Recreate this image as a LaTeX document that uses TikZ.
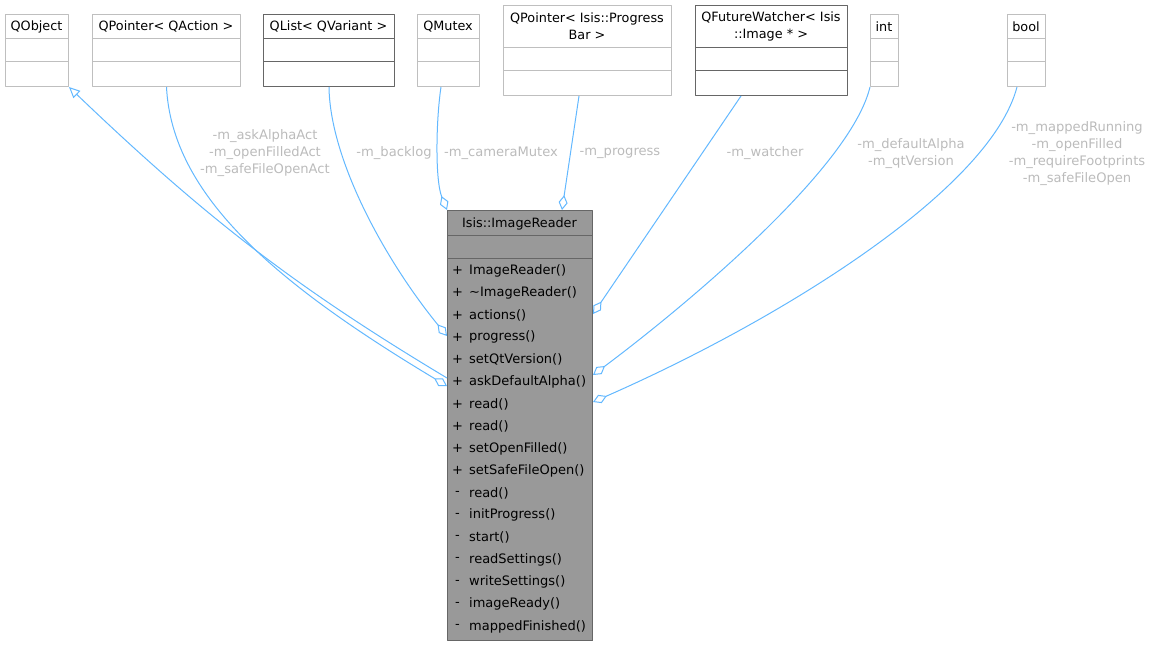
\documentclass[tikz,border=0pt]{standalone}
\usepackage{fontspec}
\setmainfont{DejaVu Sans}
\usetikzlibrary{arrows.meta}
\definecolor{boxgray}{HTML}{BFBFBF}
\definecolor{borderdark}{HTML}{666666}
\definecolor{linkblue}{HTML}{63B8FF}
\definecolor{rolegray}{HTML}{BBBBBB}
\definecolor{readerfill}{HTML}{999999}
\tikzset{
  every picture/.style={font=\fontsize{13}{15}\selectfont, line join=round},
  clsbox/.style={draw=boxgray, line width=1pt, inner sep=0pt, anchor=north west},
  clsdark/.style={clsbox, draw=borderdark},
  clsname/.style={inner sep=0pt, align=center, font=\fontsize{12.8}{17}\selectfont},
  member/.style={inner sep=0pt, anchor=west},
  edgeblue/.style={draw=linkblue, line width=1pt},
  agg/.style={edgeblue, -{Diamond[open, length=15pt, width=9pt]}},
  inh/.style={edgeblue, {Triangle[open, length=11pt, width=10pt]}-},
  role/.style={text=rolegray, align=center, inner sep=0pt, font=\fontsize{13.1}{17}\selectfont},
}

\begin{document}
\begin{tikzpicture}[x=1pt,y=-1pt]
\useasboundingbox (0,0) rectangle (1149,646);
% classes along the top
\node[clsbox, minimum width=63pt, minimum height=72pt] (qobject) at (5,14) {};
\node[clsbox, minimum width=148pt, minimum height=72pt] (qaction) at (92,14) {};
\node[clsdark, minimum width=131pt, minimum height=72pt] (qlist) at (263,14) {};
\node[clsbox, minimum width=62pt, minimum height=72pt] (qmutex) at (417,14) {};
\node[clsbox, minimum width=168pt, minimum height=90pt] (qprogress) at (503,5) {};
\node[clsdark, minimum width=152pt, minimum height=90pt] (qwatcher) at (695,5) {};
\node[clsbox, minimum width=28pt, minimum height=72pt] (qint) at (870,14) {};
\node[clsbox, minimum width=38pt, minimum height=72pt] (qbool) at (1007,14) {};
\foreach \n/\a/\b/\c in {qobject/38/61/boxgray, qaction/38/61/boxgray, qlist/38/61/borderdark,
    qmutex/38/61/boxgray, qprogress/47/70/boxgray, qwatcher/47/70/borderdark,
    qint/38/61/boxgray, qbool/38/61/boxgray}
  \draw[\c, line width=1pt] (\n.west |- 0,\a) -- (\n.east |- 0,\a) (\n.west |- 0,\b) -- (\n.east |- 0,\b);
\node[clsname] (qobject-t) at (36.5,26.5) {QObject};
\node[clsname] (qaction-t) at (166,26.5) {QPointer< QAction >};
\node[clsname] (qlist-t) at (328.5,26.5) {QList< QVariant >};
\node[clsname] (qmutex-t) at (448,26.5) {QMutex};
\node[clsname] (qprogress-t) at (587,26.5) {QPointer< Isis::Progress\\Bar >};
\node[clsname] (qwatcher-t) at (771,26.5) {QFutureWatcher< Isis\\::Image * >};
\node[clsname] (qint-t) at (884,26.5) {int};
\node[clsname] (qbool-t) at (1026,26.5) {bool};
% the reader class
\node[clsdark, fill=readerfill, minimum width=145pt, minimum height=430pt] (reader) at (447,210) {};
\draw[borderdark, line width=1pt] (reader.west |- 0,235) -- (reader.east |- 0,235) (reader.west |- 0,258) -- (reader.east |- 0,258);
\node[clsname] (reader-t) at (519.5,223.5) {Isis::ImageReader};
\foreach \m [count=\i] in {ImageReader(), \textasciitilde ImageReader(), actions(), progress(), setQtVersion(),
    askDefaultAlpha(), read(), read(), setOpenFilled(), setSafeFileOpen()}{
  \node[inner sep=0pt] (pub-s\i) at (457.5,{270.5+(\i-1)*22.25}) {+};
  \node[member] (pub-\i) at (469,{270.5+(\i-1)*22.25}) {\m};
}
\foreach \m [count=\i] in {read(), initProgress(), start(), readSettings(), writeSettings(), imageReady(), mappedFinished()}{
  \node[inner sep=0pt] (priv-s\i) at (457.5,{270.5+(\i+9)*22.25}) {-};
  \node[member] (priv-\i) at (469,{270.5+(\i+9)*22.25}) {\m};
}
% connectors
\draw[inh] (qobject.south east) .. controls (208,220) and (297,288) .. (reader.west |- 0,378);
\draw[agg] (qaction.south) .. controls (172,196) and (277,284) .. (reader.west |- 0,386);
\draw[agg] (qlist.south) .. controls (330,160) and (385,260) .. (reader.west |- 0,336);
\draw[agg] (qmutex.south -| 441,0) .. controls (436,120) and (435,180) .. (reader.north west);
\draw[agg] (qprogress.south -| 579,0) -- (reader.north -| 562,0);
\draw[agg] (qwatcher.south -| 741,0) -- (reader.east |- 0,314);
\draw[agg] (qint.south west) .. controls (850,170) and (680,310) .. (reader.east |- 0,375);
\draw[agg] (qbool.south -| 1017,0) .. controls (990,190) and (780,320) .. (reader.east |- 0,402);
% member names
\node[role] (r-action) at (265,153.5) {-m\_askAlphaAct\\-m\_openFilledAct\\-m\_safeFileOpenAct};
\node[role] (r-list) at (394,153.5) {-m\_backlog};
\node[role] (r-mutex) at (501,153.5) {-m\_cameraMutex};
\node[role] (r-progress) at (620,153.5) {-m\_progress};
\node[role] (r-watcher) at (765,153.5) {-m\_watcher};
\node[role] (r-int) at (911,153.5) {-m\_defaultAlpha\\-m\_qtVersion};
\node[role] (r-bool) at (1077,153.5) {-m\_mappedRunning\\-m\_openFilled\\-m\_requireFootprints\\-m\_safeFileOpen};
\end{tikzpicture}
\end{document}
